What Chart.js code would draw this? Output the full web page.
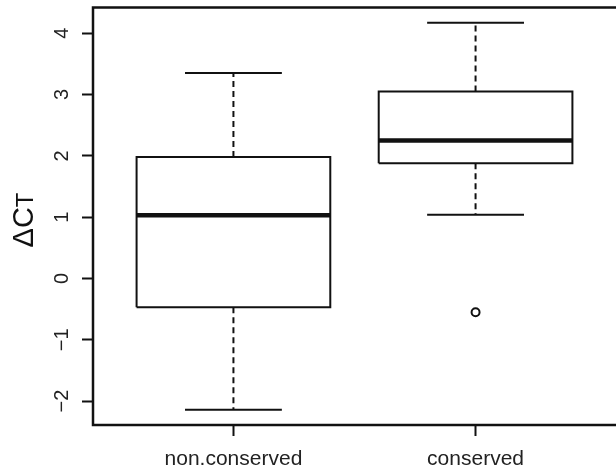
<!DOCTYPE html>
<html>
<head>
<meta charset="utf-8">
<script src="https://cdn.jsdelivr.net/npm/chart.js@4/dist/chart.umd.min.js"></script>
<style>
  body { margin: 0; background: #fff; }
  canvas { display: block; }
</style>
</head>
<body>
<canvas id="chart" width="616" height="470"></canvas>
<script>
var categories = ['non.conserved', 'conserved'];
var whiskerLow = [-2.14, 1.04];
var lowerQuartile = [-0.47, 1.88];
var medians = [1.03, 2.25];
var upperQuartile = [1.98, 3.05];
var whiskerHigh = [3.35, 4.17];
var outliers = [[], [-0.55]];
var yTicks = [-2, -1, 0, 1, 2, 3, 4];

var boxHalf = 0.4;
var capHalf = 0.2;
var ink = '#111';

function segment(points, width, dash) {
    return {
        type: 'scatter',
        showLine: true,
        data: points,
        borderColor: ink,
        borderWidth: width,
        borderDash: dash || [],
        borderCapStyle: 'butt',
        pointRadius: 0,
        fill: false
    };
}

var datasets = [];
for (let i = 0; i < categories.length; i++) {
    let x = i + 1;
    // dashed whiskers first so the box and caps sit on top
    datasets.push(segment([{x: x, y: upperQuartile[i]}, {x: x, y: whiskerHigh[i]}], 2, [6, 4]));
    datasets.push(segment([{x: x, y: lowerQuartile[i]}, {x: x, y: whiskerLow[i]}], 2, [6, 4]));
    datasets.push(segment([{x: x - capHalf, y: whiskerHigh[i]}, {x: x + capHalf, y: whiskerHigh[i]}], 2));
    datasets.push(segment([{x: x - capHalf, y: whiskerLow[i]}, {x: x + capHalf, y: whiskerLow[i]}], 2));
    datasets.push(segment([
        {x: x - boxHalf, y: lowerQuartile[i]},
        {x: x + boxHalf, y: lowerQuartile[i]},
        {x: x + boxHalf, y: upperQuartile[i]},
        {x: x - boxHalf, y: upperQuartile[i]},
        {x: x - boxHalf, y: lowerQuartile[i]}
    ], 2));
    datasets.push(segment([{x: x - boxHalf, y: medians[i]}, {x: x + boxHalf, y: medians[i]}], 4.5));
    if (outliers[i].length) {
        datasets.push({
            type: 'scatter',
            data: outliers[i].map(function (v) { return {x: x, y: v}; }),
            pointStyle: 'circle',
            pointRadius: 4,
            pointBorderWidth: 2,
            borderColor: ink,
            backgroundColor: 'rgba(0,0,0,0)'
        });
    }
}

// box around the plot region, like R's box()
var framePlugin = {
    id: 'frame',
    afterDatasetsDraw: function (chart) {
        var a = chart.chartArea;
        var c = chart.ctx;
        c.save();
        c.strokeStyle = ink;
        c.lineWidth = 2.5;
        c.strokeRect(a.left, a.top, a.right - a.left + 4, a.bottom - a.top);
        c.restore();
    }
};

// y title: delta C with a smaller T on the baseline
var yTitlePlugin = {
    id: 'ytitle',
    afterDraw: function (chart) {
        var c = chart.ctx;
        var big = '29px "Liberation Sans", Arial, sans-serif';
        var small = '24px "Liberation Sans", Arial, sans-serif';
        c.save();
        c.fillStyle = ink;
        c.textBaseline = 'alphabetic';
        c.textAlign = 'left';
        c.font = big;
        var w1 = c.measureText('\u0394C').width;
        c.font = small;
        var w2 = c.measureText('T').width;
        c.translate(33, 220);
        c.rotate(-Math.PI / 2);
        var start = -(w1 + w2) / 2;
        c.font = big;
        c.fillText('\u0394C', start, 0);
        c.font = small;
        c.fillText('T', start + w1, 0);
        c.restore();
    }
};

var ctx = document.getElementById('chart').getContext('2d');
var boxChart = new Chart(ctx, {
    type: 'scatter',
    data: { datasets: datasets },
    options: {
        responsive: false,
        animation: false,
        devicePixelRatio: 1,
        layout: { autoPadding: false, padding: { top: 7.5, left: 0, right: 0, bottom: 0 } },
        plugins: { legend: { display: false }, tooltip: { enabled: false } },
        scales: {
            x: {
                type: 'linear',
                min: 0.42,
                max: 2.58,
                afterBuildTicks: function (scale) {
                    scale.ticks = categories.map(function (c, i) { return {value: i + 1}; });
                },
                afterFit: function (scale) {
                    scale.height = 45;
                    scale.paddingLeft = 0;
                    scale.paddingRight = 0;
                },
                border: { display: false },
                grid: { drawOnChartArea: false, drawTicks: true, tickLength: 11, tickWidth: 2, tickColor: ink },
                ticks: {
                    padding: 11,
                    color: '#222',
                    font: { family: '"Liberation Sans", Arial, sans-serif', size: 21 },
                    maxRotation: 0,
                    callback: function (v) { return categories[v - 1]; }
                }
            },
            y: {
                type: 'linear',
                min: -2.39,
                max: 4.42,
                afterBuildTicks: function (scale) {
                    scale.ticks = yTicks.map(function (v) { return {value: v}; });
                },
                afterFit: function (scale) {
                    scale.width = 93;
                    scale.paddingTop = 0;
                    scale.paddingBottom = 0;
                },
                border: { display: false },
                grid: { drawOnChartArea: false, drawTicks: true, tickLength: 11, tickWidth: 2, tickColor: ink },
                ticks: {
                    padding: 8,
                    color: '#222',
                    minRotation: 90,
                    maxRotation: 90,
                    crossAlign: 'center',
                    font: { family: '"Liberation Sans", Arial, sans-serif', size: 20 },
                    callback: function (v) { return v < 0 ? '\u2212' + Math.abs(v) : String(v); }
                }
            }
        }
    },
    plugins: [framePlugin, yTitlePlugin]
});
</script>
</body>
</html>
